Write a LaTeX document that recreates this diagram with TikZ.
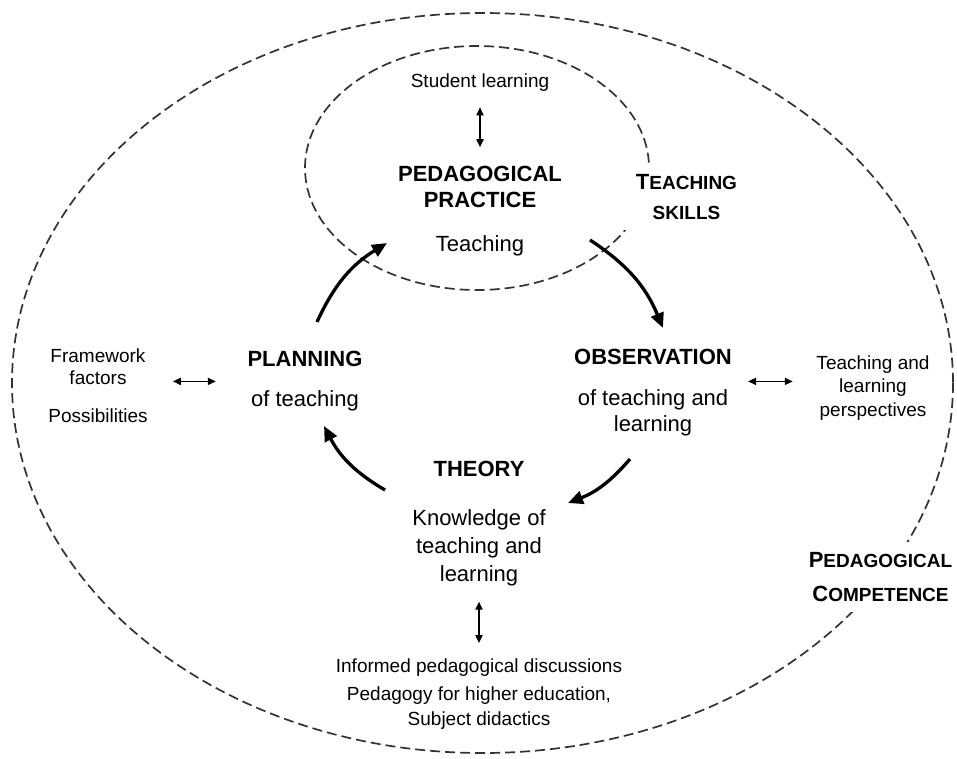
\documentclass[tikz,border=0pt]{standalone}
\usepackage{fontspec}
\setmainfont{Liberation Sans}
\usetikzlibrary{arrows.meta}

\tikzset{
  body/.style={align=center, inner sep=0pt, font=\fontsize{22}{26}\selectfont},
  side/.style={align=center, inner sep=0pt, font=\fontsize{19}{23.5}\selectfont},
  area/.style={fill=white, align=center, inner xsep=12pt, inner ysep=10pt},
  ring/.style={draw=black!80, line width=1.7pt, dash pattern=on 10pt off 5pt},
  turn/.style={line width=3.3pt, -{Triangle[length=15pt,width=13pt]}},
  link/.style={line width=1.7pt, {Triangle[length=8pt,width=7pt]}-{Triangle[length=8pt,width=7pt]}}
}
\newcommand\capfirst[1]{{\fontsize{22}{30}\selectfont #1}}

\begin{document}
\begin{tikzpicture}[x=1pt,y=-1pt]
  \useasboundingbox (0,0) rectangle (957,758);

  % dashed areas
  \draw[ring] (482.5,383) ellipse [x radius=470.5, y radius=370];
  \draw[ring] (477,168) ellipse [x radius=172, y radius=122];

  % area labels (they break the dashed lines)
  \node[area, font=\bfseries\fontsize{19}{30}\selectfont] (skills) at (686.5,197.1)
    {\capfirst{T}EACHING\\SKILLS};
  \node[area, font=\bfseries\fontsize{19}{34}\selectfont] (competence) at (880.5,577.1)
    {\capfirst{P}EDAGOGICAL\\\capfirst{C}OMPETENCE};

  % the four stages
  \node[body] (practice) at (480,211.4) {\textbf{PEDAGOGICAL}\\\textbf{PRACTICE}\\[18pt]Teaching};
  \node[body] (planning) at (305,381.4) {\textbf{PLANNING}\\[14pt]of teaching};
  \node[body] (observation) at (653,392.9) {\textbf{OBSERVATION}\\[15pt]of teaching and\\learning};
  \node[body, font=\fontsize{22}{28}\selectfont] (theory) at (479,523.9)
    {\textbf{THEORY}\\[21pt]Knowledge of\\teaching and\\learning};

  % outer texts
  \node[side] (student) at (480,82.2) {Student learning};
  \node[side, font=\fontsize{19}{21}\selectfont] (framework) at (98,385.7)
    {Framework\\factors\\[17pt]Possibilities};
  \node[side] (perspectives) at (873,387.7) {Teaching and\\learning\\perspectives};
  \node[side, font=\fontsize{19}{25}\selectfont] (discussions) at (479,693.7)
    {Informed pedagogical discussions\\[3pt]Pedagogy for higher education,\\Subject didactics};

  % cycle arrows
  \coordinate (a1) at (317,322);
  \coordinate (b1) at (387,243);
  \coordinate (a2) at (590,240);
  \coordinate (b2) at (663,328);
  \coordinate (a3) at (630,459);
  \coordinate (b3) at (568,503);
  \coordinate (a4) at (385,490);
  \coordinate (b4) at (324,426);
  \draw[turn] (a1) to[bend left=17] (b1);
  \draw[turn] (a2) to[bend left=17] (b2);
  \draw[turn] (a3) to[bend left=14] (b3);
  \draw[turn] (a4) to[bend left=16] (b4);

  % two-way links
  \draw[link, shorten <=16pt, shorten >=19pt] (student) -- (practice);
  \draw[link, shorten <=15pt, shorten >=15pt] (theory) -- (discussions);
  \draw[link, shorten <=25pt, shorten >=31.5pt] (planning.west -| framework.east) -- (planning.west);
  \draw[link, shorten <=16pt, shorten >=23.5pt] (planning.west -| observation.east) -- (planning.west -| perspectives.west);
\end{tikzpicture}
\end{document}
